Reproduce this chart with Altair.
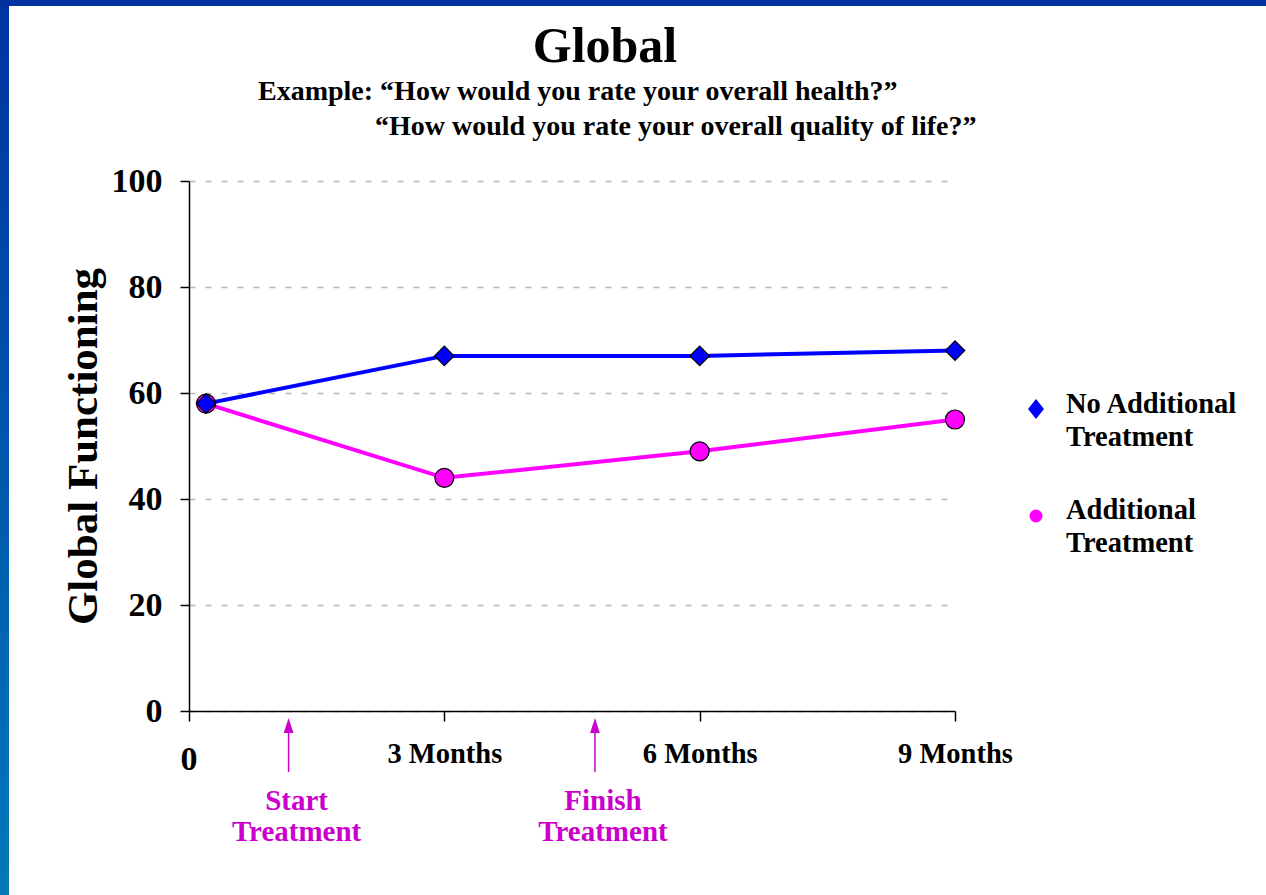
import altair as alt
import pandas as pd

# Assessment times (months) and mean global functioning scores
months = [0.2, 3, 6, 9]
no_additional = [58, 67, 67, 68]
additional = [58, 44, 49, 55]
series_names = ["No Additional Treatment", "Additional Treatment"]
series_colors = ["#0000ff", "#ff00ff"]

# Axis ticks
x_tick_months = [0, 3, 6, 9]
y_ticks = [0, 20, 40, 60, 80, 100]

# Treatment period markers along the time axis
treatment_months = [1.17, 4.77]
treatment_labels = [["Start", "Treatment"], ["Finish", "Treatment"]]

FONT = "Liberation Serif"
W, H = 766, 530
LEFT, TOP = 189, 181
ANNOT = "#cc00cc"

rows = []
for name, vals in zip(series_names, [no_additional, additional]):
    for m, v in zip(months, vals):
        rows.append({"month": m, "score": v, "series": name})
df = pd.DataFrame(rows)

x_scale = alt.Scale(domain=[0, 9], nice=False, zero=False)
y_scale = alt.Scale(domain=[0, 100], nice=False)
color_scale = alt.Scale(domain=series_names, range=series_colors)

x_enc = alt.X(
    "month:Q",
    scale=x_scale,
    axis=alt.Axis(
        values=x_tick_months,
        labelExpr="datum.value == 0 ? '' : datum.value + ' Months'",
        title=None,
        grid=False,
        tickSize=10,
        labelFontSize=28.5,
        labelPadding=18,
        labelFlush=False,
    ),
)
y_enc = alt.Y(
    "score:Q",
    scale=y_scale,
    axis=alt.Axis(
        values=y_ticks,
        title="Global Functioning",
        titleFontSize=43,
        titlePadding=6,
        labelFontSize=34,
        labelPadding=18,
        tickSize=9,
        grid=True,
        gridDash=[6, 10],
        gridColor="#b8b8b8",
        gridWidth=1.3,
    ),
)

base = alt.Chart(df)

lines = base.mark_line(strokeWidth=4).encode(
    x=x_enc,
    y=y_enc,
    color=alt.Color("series:N", scale=color_scale, legend=None),
    order=alt.Order("month:Q"),
)

circles = base.transform_filter(alt.datum.series == series_names[1]).mark_point(
    shape="circle", filled=True, size=360, fill="#ff00ff", stroke="black",
    strokeWidth=1.2, opacity=1,
).encode(x="month:Q", y="score:Q")

diamonds = base.transform_filter(alt.datum.series == series_names[0]).mark_point(
    shape="diamond", filled=True, size=380, fill="#0000ff", stroke="black",
    strokeWidth=1.2, opacity=1,
).encode(x="month:Q", y="score:Q")

# "0" label at the origin of the time axis
zero_df = pd.DataFrame({"month": [0], "label": ["0"]})
zero_label = alt.Chart(zero_df).mark_text(
    font=FONT, fontWeight="bold", fontSize=34, baseline="middle", align="center",
    color="black",
).encode(x="month:Q", y=alt.value(760 - TOP), text="label:N")

# Treatment start / finish arrows and labels
treat_df = pd.DataFrame({"month": treatment_months, "label": treatment_labels})
arrow_shaft = alt.Chart(treat_df).mark_rule(color=ANNOT, strokeWidth=1.5).encode(
    x="month:Q", y=alt.value(732 - TOP), y2=alt.value(772 - TOP)
)
arrow_head = alt.Chart(treat_df).mark_point(
    shape="M0,-1L0.65,1L-0.65,1Z", filled=True, size=225, fill=ANNOT, opacity=1,
    strokeWidth=0,
).encode(x="month:Q", y=alt.value(725.5 - TOP))
arrow_text = alt.Chart(treat_df).mark_text(
    font=FONT, fontWeight="bold", fontSize=29, color=ANNOT, baseline="middle",
    align="center", lineHeight=31, dx=8,
).encode(x="month:Q", y=alt.value(801 - TOP), text="label")

one = pd.DataFrame({"k": [0]})

# Heading
title = alt.Chart(one).mark_text(
    text="Global", font=FONT, fontWeight="bold", fontSize=50, align="center",
    baseline="middle", color="black",
).encode(x=alt.value(605 - LEFT), y=alt.value(47 - TOP))
sub1 = alt.Chart(one).mark_text(
    text="Example: \u201cHow would you rate your overall health?\u201d", font=FONT,
    fontWeight="bold", fontSize=28, align="left", baseline="middle", color="black",
).encode(x=alt.value(258 - LEFT), y=alt.value(92 - TOP))
sub2 = alt.Chart(one).mark_text(
    text="\u201cHow would you rate your overall quality of life?\u201d", font=FONT,
    fontWeight="bold", fontSize=28, align="left", baseline="middle", color="black",
).encode(x=alt.value(375 - LEFT), y=alt.value(127 - TOP))

# Legend
leg_diamond = alt.Chart(one).mark_point(
    shape="M0,-1L0.8,0L0,1L-0.8,0Z", filled=True, size=400, fill="#0000ff",
    opacity=1, strokeWidth=0,
).encode(x=alt.value(1036 - LEFT), y=alt.value(409 - TOP))
leg_circle = alt.Chart(one).mark_point(
    shape="circle", filled=True, size=169, fill="#ff00ff", opacity=1, strokeWidth=0,
).encode(x=alt.value(1036 - LEFT), y=alt.value(516 - TOP))
leg_text1 = alt.Chart(one).mark_text(
    text=["No Additional", "Treatment"], font=FONT, fontWeight="bold", fontSize=28.5,
    align="left", baseline="middle", lineHeight=33, color="black",
).encode(x=alt.value(1066 - LEFT), y=alt.value(404 - TOP))
leg_text2 = alt.Chart(one).mark_text(
    text=["Additional", "Treatment"], font=FONT, fontWeight="bold", fontSize=28.5,
    align="left", baseline="middle", lineHeight=33, color="black",
).encode(x=alt.value(1066 - LEFT), y=alt.value(510 - TOP))

# Slide frame: blue band along the left and top edges
frame_grad = alt.Gradient(
    gradient="linear",
    stops=[alt.GradientStop(color="#00339f", offset=0),
           alt.GradientStop(color="#0079ba", offset=1)],
    x1=0, x2=0, y1=0, y2=1,
)
frame_left = alt.Chart(one).mark_rect(color=frame_grad).encode(
    x=alt.value(0 - LEFT), x2=alt.value(9 - LEFT),
    y=alt.value(0 - TOP), y2=alt.value(895 - TOP),
)
frame_top = alt.Chart(one).mark_rect(color="#00339f").encode(
    x=alt.value(0 - LEFT), x2=alt.value(1266 - LEFT),
    y=alt.value(0 - TOP), y2=alt.value(6 - TOP),
)

chart = alt.layer(
    frame_left, frame_top,
    lines, circles, diamonds,
    zero_label, arrow_shaft, arrow_head, arrow_text,
    title, sub1, sub2,
    leg_diamond, leg_circle, leg_text1, leg_text2,
).properties(
    width=W, height=H,
    autosize=alt.AutoSizeParams(type="none"),
    padding={"left": LEFT, "top": TOP, "right": 1266 - LEFT - W, "bottom": 895 - TOP - H},
    background="white",
).configure_view(
    stroke=None
).configure_axis(
    labelFont=FONT, labelFontWeight="bold", labelColor="black",
    titleFont=FONT, titleFontWeight="bold", titleColor="black",
    domainColor="black", domainWidth=1.5, tickColor="black", tickWidth=1.5,
)

chart.save("out.html", embed_options={"renderer": "svg", "actions": False})
